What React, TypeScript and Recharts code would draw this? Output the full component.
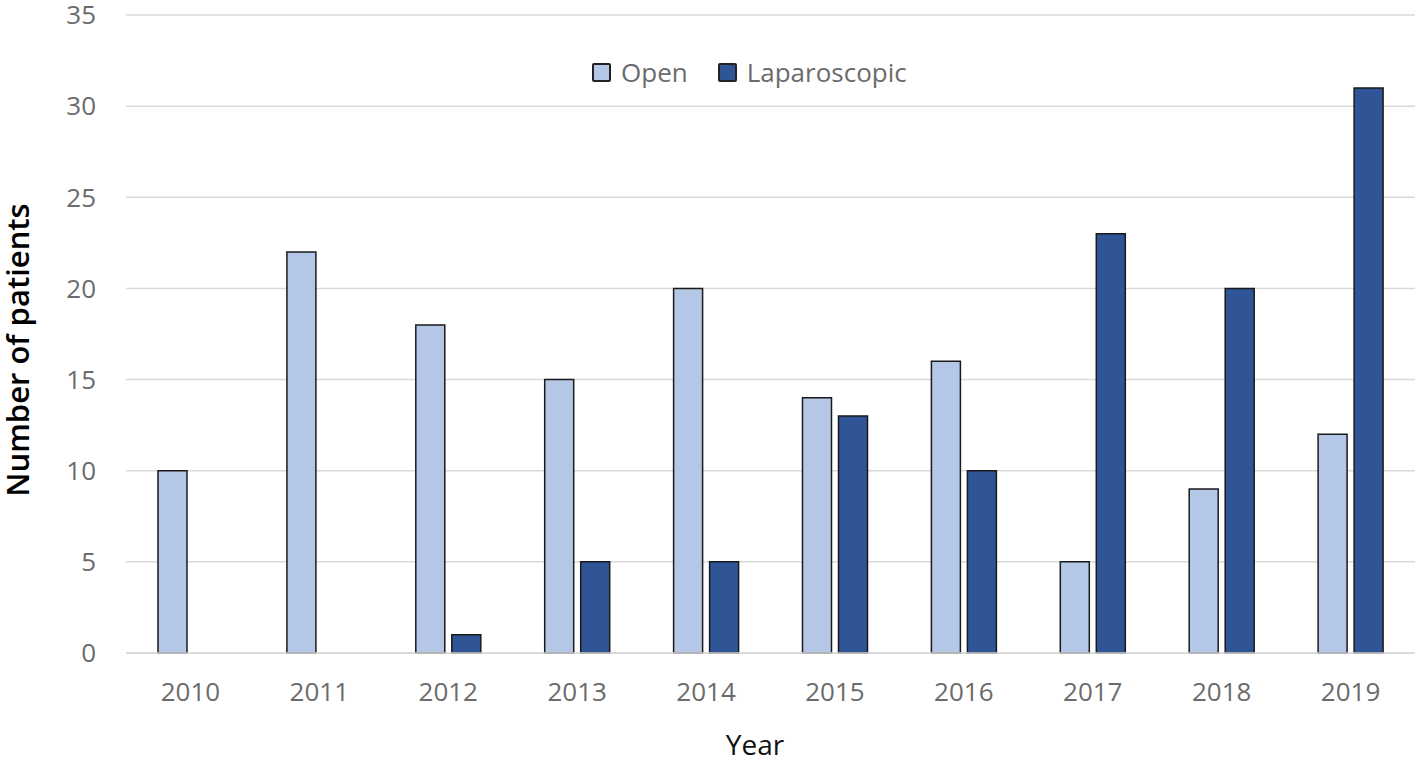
import React from 'react';
import { BarChart, Bar, XAxis, YAxis, CartesianGrid } from 'recharts';

const years = ['2010', '2011', '2012', '2013', '2014', '2015', '2016', '2017', '2018', '2019'];
const openValues = [10, 22, 18, 15, 20, 14, 16, 5, 9, 12];
const laparoscopicValues = [0, 0, 1, 5, 5, 13, 10, 23, 20, 31];
const yTicks = [0, 5, 10, 15, 20, 25, 30, 35];
const seriesNames = ['Open', 'Laparoscopic'];

const data = years.map((y, i) => ({ year: y, open: openValues[i], lap: laparoscopicValues[i] }));

const FONT = '"Open Sans", "Noto Sans", sans-serif';
const OPEN_COLOR = '#B4C7E7';
const LAP_COLOR = '#2F5597';
const seriesColors = [OPEN_COLOR, LAP_COLOR];

const LegendBox = () => (
  <div
    style={{
      position: 'absolute',
      left: 592,
      top: 57,
      display: 'flex',
      alignItems: 'center',
      fontFamily: FONT,
      pointerEvents: 'none',
    }}
  >
    {seriesNames.map((name, i) => (
      <div key={name} style={{ display: 'flex', alignItems: 'center', marginRight: i === 0 ? 30 : 0 }}>
        <div
          style={{
            width: 15,
            height: 15,
            background: seriesColors[i],
            border: '2px solid #222',
            borderRadius: 2,
            marginRight: 10,
          }}
        />
        <span style={{ fontSize: 26, color: '#6b6b6b', lineHeight: '30px' }}>{name}</span>
      </div>
    ))}
  </div>
);

export default function App() {
  return (
    <div style={{ position: 'absolute', left: 0, top: 0, width: 1418, height: 763, background: '#fff' }}>
      <BarChart
        width={1418}
        height={763}
        data={data}
        margin={{ top: 15, right: 3, left: 0, bottom: 0 }}
        barSize={29}
        barGap={7}
      >
        <CartesianGrid vertical={false} stroke="#D9D9D9" strokeWidth={1.5} />
        <XAxis
          dataKey="year"
          height={110}
          tickLine={false}
          tickSize={0}
          tickMargin={30}
          axisLine={{ stroke: '#D9D9D9', strokeWidth: 1.5 }}
          tick={{ fill: '#6b6b6b', fontSize: 26, fontFamily: FONT }}
        />
        <YAxis
          width={126}
          domain={[0, 35]}
          ticks={yTicks}
          interval={0}
          axisLine={false}
          tickLine={false}
          tickSize={0}
          tickMargin={30}
          tick={{ fill: '#6b6b6b', fontSize: 26, fontFamily: FONT }}
        />
        <Bar dataKey="open" name={seriesNames[0]} fill={OPEN_COLOR} stroke="#1a1a1a" strokeWidth={1.5} isAnimationActive={false} />
        <Bar dataKey="lap" name={seriesNames[1]} fill={LAP_COLOR} stroke="#1a1a1a" strokeWidth={1.5} isAnimationActive={false} />
      </BarChart>
      <LegendBox />
      <svg
        width={1418}
        height={763}
        style={{ position: 'absolute', left: 0, top: 0, pointerEvents: 'none' }}
      >
        <text
          x={0}
          y={0}
          transform="translate(29, 350) rotate(-90)"
          textAnchor="middle"
          fontFamily={FONT}
          fontSize={31}
          fontWeight={600}
          fill="#000"
        >
          Number of patients
        </text>
        <text x={755} y={755} textAnchor="middle" fontFamily={FONT} fontSize={28} fill="#111">
          Year
        </text>
      </svg>
    </div>
  );
}
